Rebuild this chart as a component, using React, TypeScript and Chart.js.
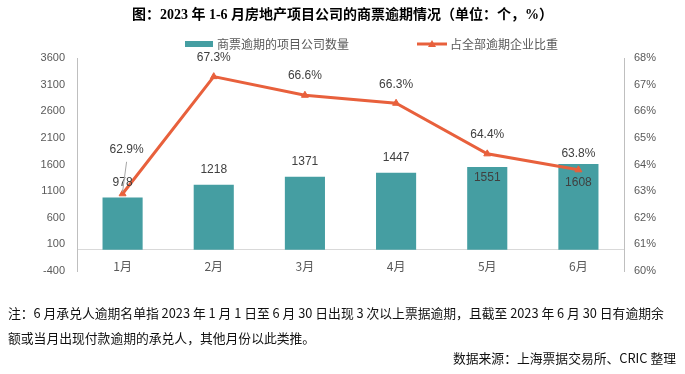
import React, { useEffect, useRef } from "react";
import { Chart, registerables } from "chart.js";

Chart.register(...registerables);

// ---------- data ----------
const categories = ["1月", "2月", "3月", "4月", "5月", "6月"];
const companyCounts = [978, 1218, 1371, 1447, 1551, 1608];
const shareOfOverdue = [62.9, 67.3, 66.6, 66.3, 64.4, 63.8];
const leftTicks = [-400, 100, 600, 1100, 1600, 2100, 2600, 3100, 3600];
const rightTicks = [60, 61, 62, 63, 64, 65, 66, 67, 68];
const barSeriesName = "商票逾期的项目公司数量";
const lineSeriesName = "占全部逾期企业比重";
const titleText = "图：2023 年 1-6 月房地产项目公司的商票逾期情况（单位：个，%）";
const noteLine1 =
  "注：6 月承兑人逾期名单指 2023 年 1 月 1 日至 6 月 30 日出现 3 次以上票据逾期，且截至 2023 年 6 月 30 日有逾期余";
const noteLine2 = "额或当月出现付款逾期的承兑人，其他月份以此类推。";
const sourceText = "数据来源：上海票据交易所、CRIC 整理";

// ---------- style ----------
const BAR_COLOR = "#459EA2";
const LINE_COLOR = "#E8603C";
const TICK_COLOR = "#595959";
const LABEL_COLOR = "#404040";
const CJK = '"Noto Sans CJK SC", "Noto Sans", sans-serif';
const LATIN = '"Liberation Sans", Arial, "Noto Sans CJK SC", sans-serif';
// label placement relative to element (pixels)
const barLabelDy = [-15, -15, -15, -15, 11, 19];
const lineLabelShift = [
  [4, -44],
  [0, -19],
  [0, -20],
  [0, -19],
  [0, -19],
  [0, -16],
];

const valueLabels = {
  id: "valueLabels",
  afterDatasetsDraw(chart: any) {
    const ctx = chart.ctx;
    ctx.save();
    ctx.font = `12px ${LATIN}`;
    ctx.fillStyle = LABEL_COLOR;
    ctx.textAlign = "center";
    ctx.textBaseline = "middle";
    const bars = chart.getDatasetMeta(0).data;
    bars.forEach((el: any, i: number) => {
      ctx.fillText(String(companyCounts[i]), el.x, el.y + barLabelDy[i]);
    });
    const pts = chart.getDatasetMeta(1).data;
    pts.forEach((el: any, i: number) => {
      const [dx, dy] = lineLabelShift[i];
      if (i === 0) {
        ctx.strokeStyle = "#A6A6A6";
        ctx.lineWidth = 1;
        ctx.beginPath();
        ctx.moveTo(el.x + dx, el.y + dy + 12);
        ctx.lineTo(el.x, el.y - 2);
        ctx.stroke();
      }
      ctx.fillStyle = LABEL_COLOR;
      ctx.fillText(shareOfOverdue[i].toFixed(1) + "%", el.x + dx, el.y + dy);
    });
    ctx.restore();
  },
};

export default function App() {
  const canvasRef = useRef<HTMLCanvasElement | null>(null);

  useEffect(() => {
    if (!canvasRef.current) return;
    const chart = new Chart(canvasRef.current, {
      type: "bar",
      data: {
        labels: categories,
        datasets: [
          {
            type: "bar",
            label: barSeriesName,
            data: companyCounts,
            backgroundColor: BAR_COLOR,
            yAxisID: "y",
            categoryPercentage: 1,
            barPercentage: 0.44,
            order: 1,
          } as any,
          {
            type: "line",
            label: lineSeriesName,
            data: shareOfOverdue,
            borderColor: LINE_COLOR,
            backgroundColor: LINE_COLOR,
            borderWidth: 3,
            pointStyle: "triangle",
            pointRadius: 4,
            pointBorderWidth: 1,
            tension: 0,
            yAxisID: "y1",
            order: 0,
          } as any,
        ],
      },
      options: {
        responsive: false,
        animation: false,
        events: [],
        layout: { padding: { top: 58, left: 0, right: 0, bottom: 103 } },
        plugins: {
          legend: { display: false },
          tooltip: { enabled: false },
          title: { display: false },
        },
        scales: {
          x: {
            position: { y: 0 } as any,
            grid: { display: false, drawTicks: false },
            border: { display: true, color: "#D9D9D9", width: 1 },
            ticks: {
              color: TICK_COLOR,
              font: { size: 12, family: CJK },
              padding: 10,
              maxRotation: 0,
            },
          },
          y: {
            position: "left",
            min: -400,
            max: 3600,
            grid: { display: false, drawTicks: false },
            border: { display: true, color: "#BFBFBF", width: 1 },
            afterBuildTicks: (s: any) => {
              s.ticks = leftTicks.map((v) => ({ value: v }));
            },
            ticks: {
              color: TICK_COLOR,
              font: { size: 11, family: LATIN },
              padding: 12,
              callback: (v: any) => String(v),
            },
            afterFit: (s: any) => {
              s.width = 77;
            },
          },
          y1: {
            position: "right",
            min: 60,
            max: 68,
            grid: { display: false, drawTicks: false },
            border: { display: true, color: "#BFBFBF", width: 1 },
            afterBuildTicks: (s: any) => {
              s.ticks = rightTicks.map((v) => ({ value: v }));
            },
            ticks: {
              color: TICK_COLOR,
              font: { size: 11, family: LATIN },
              padding: 10,
              callback: (v: any) => `${v}%`,
            },
            afterFit: (s: any) => {
              s.width = 61;
            },
          },
        },
      },
      plugins: [valueLabels],
    });
    return () => chart.destroy();
  }, []);

  return (
    <div
      style={{
        position: "absolute",
        left: 0,
        top: 0,
        width: 685,
        height: 374,
        background: "#fff",
        overflow: "hidden",
      }}
    >
      <canvas
        ref={canvasRef}
        width={685}
        height={374}
        style={{ position: "absolute", left: 0, top: 0, width: 685, height: 374 }}
      />
      <div
        style={{
          position: "absolute",
          left: 0,
          top: 5,
          width: 685,
          textAlign: "center",
          fontFamily: `"Liberation Serif", "Noto Sans CJK SC", serif`,
          fontWeight: "bold",
          fontSize: 14,
          lineHeight: "20px",
          color: "#000",
          whiteSpace: "nowrap",
        }}
      >
        {titleText}
      </div>
      {/* legend */}
      <div style={{ position: "absolute", left: 185, top: 41, width: 28, height: 6, background: BAR_COLOR }} />
      <div
        style={{
          position: "absolute",
          left: 217,
          top: 35,
          fontFamily: CJK,
          fontSize: 12,
          lineHeight: "18px",
          color: TICK_COLOR,
          whiteSpace: "nowrap",
        }}
      >
        {barSeriesName}
      </div>
      <svg style={{ position: "absolute", left: 416, top: 38 }} width={32} height={12}>
        <line x1={1} y1={6} x2={31} y2={6} stroke={LINE_COLOR} strokeWidth={3} />
        <polygon points="16,2 20,9 12,9" fill={LINE_COLOR} />
      </svg>
      <div
        style={{
          position: "absolute",
          left: 450,
          top: 35,
          fontFamily: CJK,
          fontSize: 12,
          lineHeight: "18px",
          color: TICK_COLOR,
          whiteSpace: "nowrap",
        }}
      >
        {lineSeriesName}
      </div>
      {/* notes */}
      <div
        style={{
          position: "absolute",
          left: 8,
          top: 300,
          fontFamily: CJK,
          fontSize: 12.8,
          lineHeight: "25px",
          color: "#111",
          whiteSpace: "nowrap",
        }}
      >
        <div>{noteLine1}</div>
        <div>{noteLine2}</div>
      </div>
      <div
        style={{
          position: "absolute",
          right: 9,
          top: 349,
          fontFamily: CJK,
          fontSize: 12.8,
          lineHeight: "18px",
          color: "#111",
          whiteSpace: "nowrap",
        }}
      >
        {sourceText}
      </div>
    </div>
  );
}
